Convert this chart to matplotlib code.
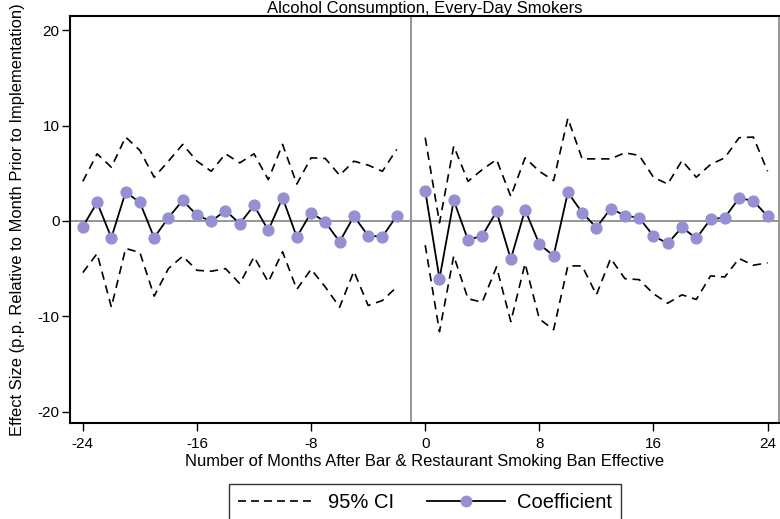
import matplotlib
matplotlib.use("Agg")
import matplotlib.pyplot as plt
from matplotlib.lines import Line2D

plt.rcParams['font.family'] = ['Liberation Sans', 'DejaVu Sans']

months_pre = list(range(-24, -1))
coef_pre = [-0.6, 1.94, -1.76, 3.03, 1.94, -1.76, 0.35, 2.15, 0.6, -0.04, 1.09, -0.28,
            1.62, -0.99, 2.43, -1.69, 0.88, -0.14, -2.18, 0.49, -1.55, -1.65, 0.53]
upper_pre = [4.15, 7.04, 5.63, 8.8, 7.39, 4.58, 6.27, 8.03, 6.27, 5.21, 7.04, 6.09,
             7.04, 4.33, 8.03, 3.87, 6.62, 6.55, 4.79, 6.27, 5.85, 5.21, 7.5]
lower_pre = [-5.42, -3.42, -9.05, -2.89, -3.31, -7.89, -5.0, -3.7, -5.18, -5.28, -5.0, -6.58,
             -3.77, -6.41, -3.24, -7.18, -5.07, -6.94, -9.05, -5.28, -8.87, -8.35, -6.94]

months_post = list(range(0, 25))
coef_post = [3.17, -6.06, 2.15, -2.0, -1.55, 0.99, -4.01, 1.16, -2.43, -3.66, 2.99, 0.88,
             -0.70, 1.30, 0.56, 0.32, -1.58, -2.36, -0.67, -1.83, 0.18, 0.35, 2.39, 2.11, 0.49]
upper_post = [8.73, -0.2, 7.85, 4.15, 5.39, 6.44, 2.57, 6.62, 5.21, 4.23, 10.77, 6.51,
              6.51, 6.51, 7.15, 6.87, 4.58, 3.87, 6.34, 4.58, 5.92, 6.62, 8.73, 8.80, 5.21]
lower_post = [-2.54, -11.62, -3.66, -8.17, -8.52, -4.82, -10.56, -4.47, -10.28, -11.41, -4.72, -4.72,
              -7.75, -3.94, -6.06, -6.16, -7.64, -8.63, -7.75, -8.24, -5.77, -5.88, -3.94, -4.65, -4.40]

xticks = [-24, -16, -8, 0, 8, 16, 24]
yticks = [-20, -10, 0, 10, 20]

title = "Alcohol Consumption, Every-Day Smokers"
xlabel = "Number of Months After Bar & Restaurant Smoking Ban Effective"
ylabel = "Effect Size (p.p. Relative to Month Prior to Implementation)"

mcolor = '#9590d3'
dash = (0, (5, 3.5))

fig = plt.figure(figsize=(7.8, 5.19), dpi=100)
ax = fig.add_axes([70/780, 96/519, 709/780, 407/519])

ax.axhline(0, color='#8c8c8c', lw=1.3, zorder=1)
ax.axvline(-1, color='#8c8c8c', lw=1.3, zorder=1)

for m, c, u, l in [(months_pre, coef_pre, upper_pre, lower_pre),
                   (months_post, coef_post, upper_post, lower_post)]:
    ax.plot(m, u, color='black', lw=1.2, linestyle=dash, zorder=2)
    ax.plot(m, l, color='black', lw=1.2, linestyle=dash, zorder=2)
    ax.plot(m, c, color='black', lw=1.3, zorder=3)
    ax.plot(m, c, linestyle='none', marker='o', ms=7.8, color=mcolor, mec=mcolor, zorder=4)

ax.set_xlim(-24.9, 24.8)
ax.set_ylim(-21.2, 21.5)
ax.set_xticks(xticks)
ax.set_xticklabels([str(t) for t in xticks])
ax.set_yticks(yticks)
ax.set_yticklabels([str(t) for t in yticks])
ax.tick_params(axis='both', labelsize=11, length=5.5, width=1, color='black', pad=2)
ax.tick_params(axis='x', pad=4.5)
for s in ['left', 'bottom', 'top']:
    ax.spines[s].set_color('black')
    ax.spines[s].set_linewidth(1.5)
ax.spines['right'].set_color('#8c8c8c')
ax.spines['right'].set_linewidth(1.3)

ax.set_xlabel(xlabel, fontsize=11.9, labelpad=2.5)
ax.set_ylabel(ylabel, fontsize=11.9, labelpad=9)
ax.set_title(title, fontsize=12, pad=2)

handles = [Line2D([], [], color='black', lw=1.2, linestyle=(0, (4.8, 3))),
           Line2D([], [], color='black', lw=1.3, marker='o', ms=7.5, mfc=mcolor, mec=mcolor)]
leg = fig.legend(handles, ['95% CI', 'Coefficient'], loc='upper center',
                 bbox_to_anchor=(425/780, 1 - 484/519), ncol=2, fontsize=14.5,
                 frameon=True, fancybox=False, edgecolor='black', handlelength=3.9,
                 columnspacing=1.6, borderpad=0.45, handletextpad=0.6, borderaxespad=0)
leg.get_frame().set_linewidth(1.0)

fig.savefig('out.png', dpi=100)
